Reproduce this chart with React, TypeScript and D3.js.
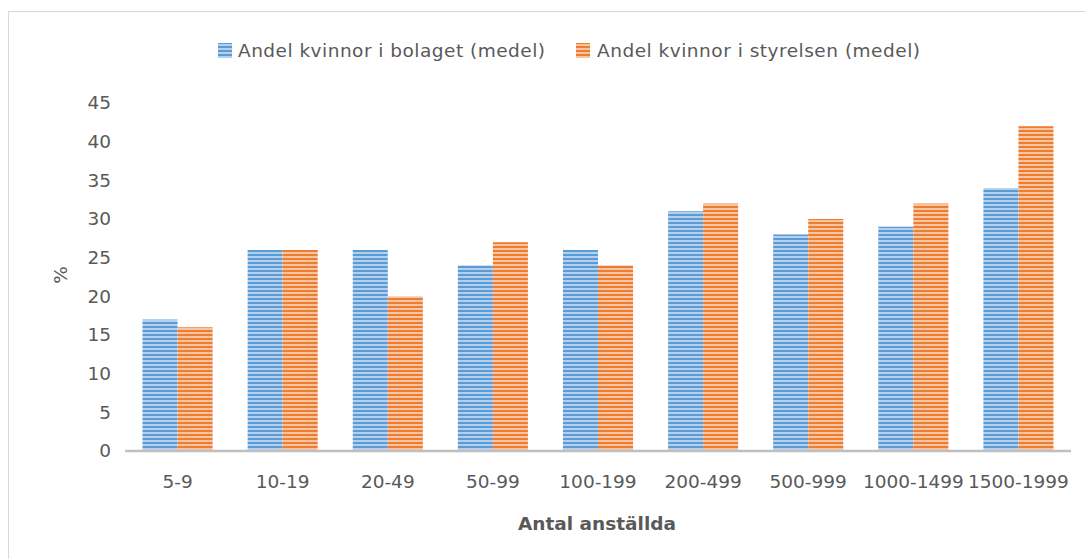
import React from "react";
import * as d3 from "d3";

const categories = ["5-9", "10-19", "20-49", "50-99", "100-199", "200-499", "500-999", "1000-1499", "1500-1999"];
const bolaget = [17, 26, 26, 24, 26, 31, 28, 29, 34];
const styrelsen = [16, 26, 20, 27, 24, 32, 30, 32, 42];
const yTicks = [0, 5, 10, 15, 20, 25, 30, 35, 40, 45];
const seriesNames = ["Andel kvinnor i bolaget (medel)", "Andel kvinnor i styrelsen (medel)"];

const font = "'DejaVu Sans', sans-serif";
const textColor = "#595959";

const App = () => {
  const width = 1085;
  const height = 559;
  const left = 125;
  const right = 1071;
  const bottom = 451;
  const top = 103;

  const x = d3.scaleBand<string>()
    .domain(categories)
    .range([left, right])
    .paddingInner(1 / 3)
    .paddingOuter(1 / 6);

  const sub = d3.scaleBand<number>()
    .domain([0, 1])
    .range([0, x.bandwidth()]);

  const y = d3.scaleLinear().domain([0, 45]).range([bottom, top]);

  const series = [bolaget, styrelsen];
  const fills = ["url(#stripeBlue)", "url(#stripeOrange)"];

  return (
    <svg width={width} height={height} style={{ position: "absolute", left: 0, top: 0 }}>
      <defs>
        <pattern id="stripeBlue" width="4" height="4" patternUnits="userSpaceOnUse">
          <rect width="4" height="4" fill="#b4d0ec" />
          <rect y="2" width="4" height="2" fill="#5b9bd5" />
        </pattern>
        <pattern id="stripeOrange" width="4" height="4" patternUnits="userSpaceOnUse">
          <rect width="4" height="4" fill="#f7c4a2" />
          <rect y="2" width="4" height="2" fill="#ed7d31" />
        </pattern>
      </defs>
      <rect width={width} height={height} fill="white" />
      <rect x={8.5} y={11.5} width={1200} height={700} fill="none" stroke="#d9d9d9" />

      {/* legend */}
      <g fontFamily={font} fontSize="18.5" fill={textColor}>
        <rect x={218} y={43} width={14} height={15} fill={fills[0]} />
        <text x={238} y={57} textLength={307} lengthAdjust="spacing">{seriesNames[0]}</text>
        <rect x={576} y={43} width={14} height={15} fill={fills[1]} />
        <text x={597} y={57} textLength={323} lengthAdjust="spacing">{seriesNames[1]}</text>
      </g>

      {/* y ticks */}
      <g fontFamily={font} fontSize="18.5" fill={textColor}>
        {yTicks.map(t => (
          <text key={t} x={111} y={y(t)} dy="0.35em" textAnchor="end">{t}</text>
        ))}
        <text transform="translate(67, 275) rotate(-90)" textAnchor="middle">%</text>
      </g>

      {/* bars */}
      {series.map((s, si) => (
        <g key={si}>
          {s.map((v, i) => (
            <rect
              key={i}
              x={(x(categories[i]) ?? 0) + (sub(si) ?? 0)}
              y={y(v)}
              width={sub.bandwidth()}
              height={bottom - y(v)}
              fill={fills[si]}
            />
          ))}
        </g>
      ))}

      <line x1={left} x2={right} y1={bottom} y2={bottom} stroke="#bfbfbf" strokeWidth="2.5" />

      {/* x labels */}
      <g fontFamily={font} fontSize="18.5" fill={textColor}>
        {categories.map(c => (
          <text key={c} x={(x(c) ?? 0) + x.bandwidth() / 2} y={488} textAnchor="middle">{c}</text>
        ))}
        <text x={597} y={530} textAnchor="middle" fontWeight="bold">Antal anställda</text>
      </g>
    </svg>
  );
};

export default App;
